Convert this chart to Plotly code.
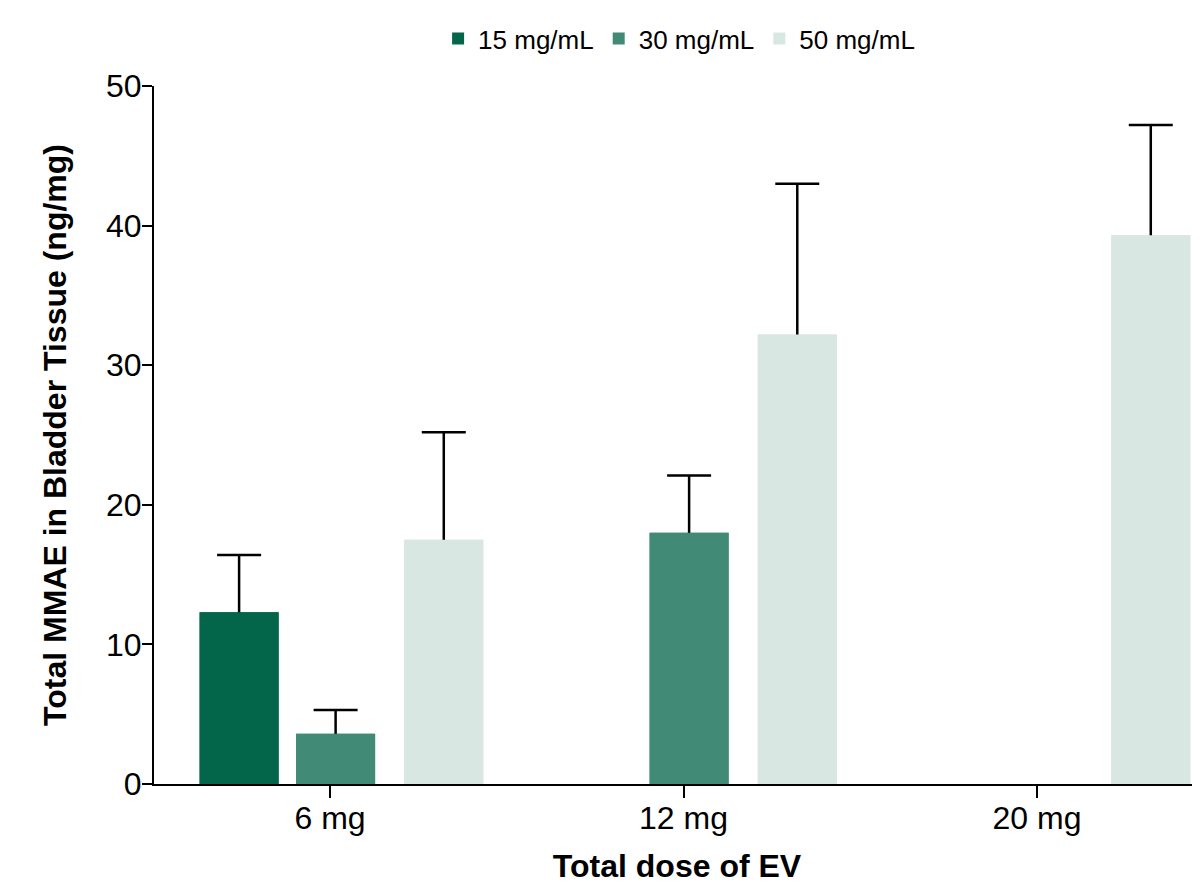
import plotly.graph_objects as go

# ---- data ----
doses = ["6 mg", "12 mg", "20 mg"]
series_names = ["15 mg/mL", "30 mg/mL", "50 mg/mL"]
mean_15 = [12.3, None, None]
mean_30 = [3.6, 18.0, None]
mean_50 = [17.5, 32.2, 39.3]
sd_15 = [4.1, None, None]
sd_30 = [1.7, 4.1, None]
sd_50 = [7.7, 10.8, 7.9]
y_ticks = [0, 10, 20, 30, 40, 50]

# ---- style ----
colors = ["#03664A", "#418B76", "#D9E7E3"]
offsets = [-0.369, -0.096, 0.210]
bar_width = 0.2235
FONT = "Arial, Liberation Sans, sans-serif"

means = [mean_15, mean_30, mean_50]
sds = [sd_15, sd_30, sd_50]

fig = go.Figure()
# bars with error bars
for name, m, s, c, off in zip(series_names, means, sds, colors, offsets):
    fig.add_trace(go.Bar(
        x=doses, y=m, name=name,
        marker=dict(color=c, line=dict(width=0)),
        width=bar_width, offset=off,
        error_y=dict(type="data", array=s, symmetric=True,
                     color="#000000", thickness=2.5, width=22),
        showlegend=True,
    ))
# same bars drawn again on top to hide the lower half of each error bar
for name, m, c, off in zip(series_names, means, colors, offsets):
    fig.add_trace(go.Bar(
        x=doses, y=m, name=name,
        marker=dict(color=c, line=dict(width=0)),
        width=bar_width, offset=off,
        showlegend=False, hoverinfo="skip",
    ))

fig.update_layout(
    width=1200, height=886,
    barmode="overlay",
    plot_bgcolor="white", paper_bgcolor="white",
    margin=dict(l=146, r=8, t=78, b=110, autoexpand=False),
    font=dict(family=FONT, color="#000000"),
    legend=dict(orientation="h", x=0.502, xanchor="center", xref="paper",
                y=0.992, yanchor="top", yref="container",
                font=dict(size=26, family=FONT), itemwidth=30,
                traceorder="normal"),
    xaxis=dict(
        type="category", categoryorder="array", categoryarray=doses,
        range=[-0.498, 2.461],
        showline=True, linecolor="#000000", linewidth=2,
        ticks="outside", ticklen=12, tickwidth=2, tickcolor="#000000",
        tickfont=dict(size=32, family=FONT),
        ticklabelstandoff=-7,
        showgrid=False, zeroline=False,
        title=dict(text="<b>Total dose of EV</b>",
                   font=dict(size=32, family=FONT), standoff=19),
    ),
    yaxis=dict(
        range=[0, 50], tickvals=y_ticks,
        showline=True, linecolor="#000000", linewidth=2,
        ticks="outside", ticklen=10, tickwidth=2, tickcolor="#000000",
        tickfont=dict(size=32, family=FONT),
        ticklabelstandoff=-6,
        showgrid=False, zeroline=False,
        title=dict(text="<b>Total MMAE in Bladder Tissue (ng/mg)</b>",
                   font=dict(size=32, family=FONT), standoff=30),
    ),
)

fig.write_html("out.html")
